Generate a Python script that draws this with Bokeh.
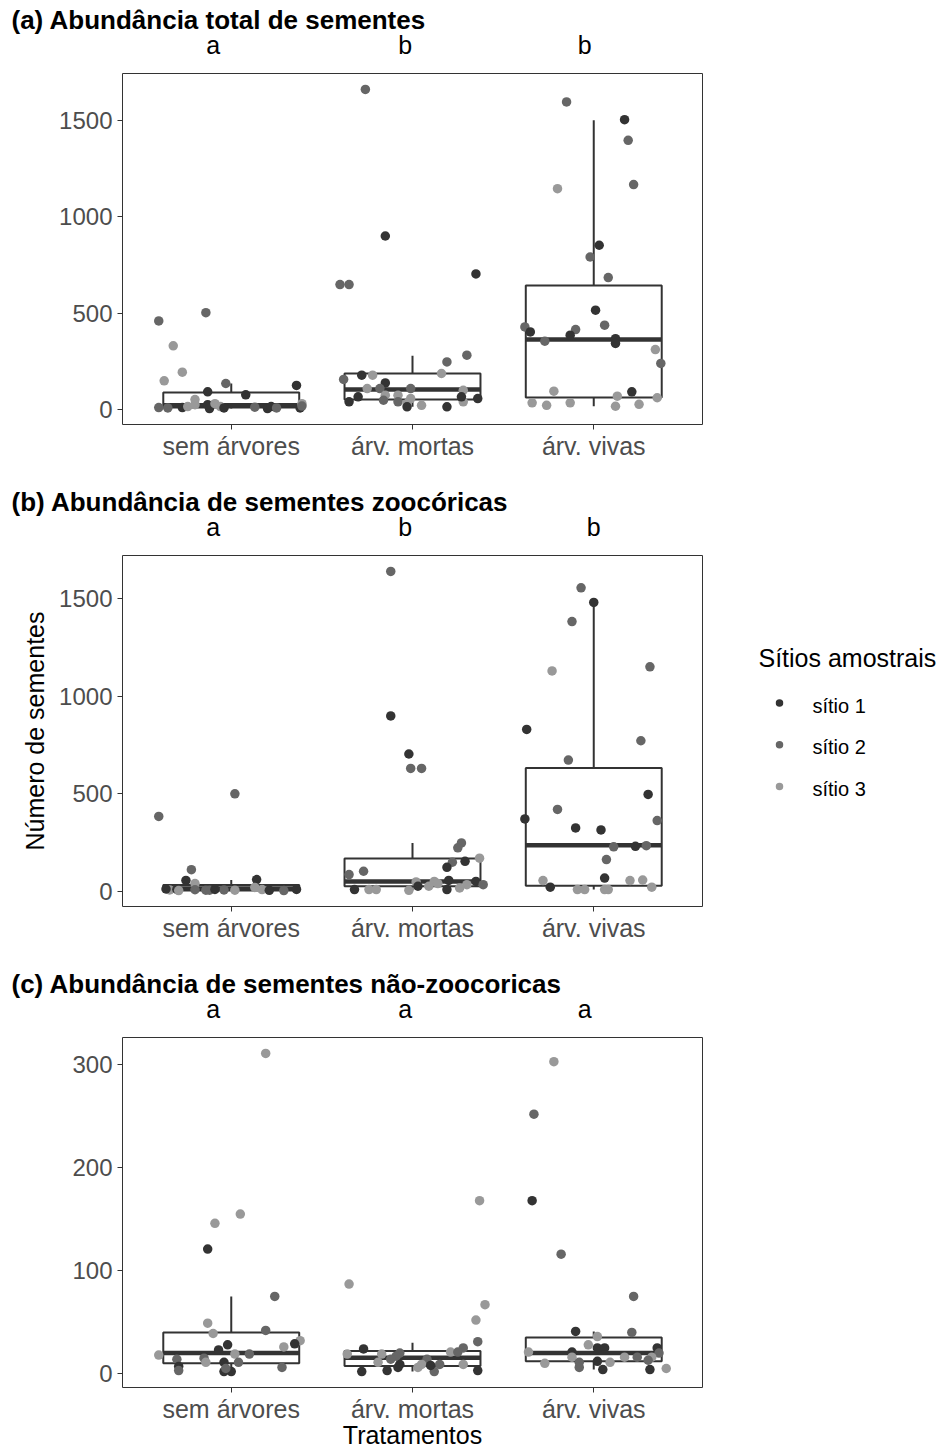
from bokeh.plotting import figure
from bokeh.models import Range1d, FixedTicker, ColumnDataSource, LinearAxis
from bokeh.layouts import column, row
from bokeh.embed import file_html
from bokeh.resources import INLINE
from bokeh.core.properties import value

FONT = "Liberation Sans"
TXT = "#4D4D4D"
INK = "#333333"

treatments = ["sem árvores", "árv. mortas", "árv. vivas"]
site_labels = ["sítio 1", "sítio 2", "sítio 3"]
site_colors = ["#333333", "#666666", "#999999"]
legend_title = "Sítios amostrais"
x_title = "Tratamentos"
y_title = "Número de sementes"

titles = ["(a) Abundância total de sementes",
          "(b) Abundância de sementes zoocóricas",
          "(c) Abundância de sementes não-zoocoricas"]

# ---------------- panel (a) ----------------
a_letters = ["a", "b", "b"]
a_letter_x = [0.9, 1.96, 2.95]
a_yticks = [0, 500, 1000, 1500]
a_values = [
    [460, 503, 331, 194, 149, 135, 125, 92, 76, 10, 8, 10, 15, 52, 25, 25, 5, 30, 15, 8, 12, 5, 15, 8, 8, 30, 18],
    [1662, 901, 649, 649, 704, 282, 247, 187, 178, 178, 156, 138, 109, 109, 109, 100, 66, 74, 74, 48, 40, 57, 31, 14, 40, 22, 14, 40, 66, 57],
    [1597, 1505, 1398, 1147, 1168, 853, 792, 685, 516, 438, 429, 403, 415, 386, 355, 368, 343, 311, 239, 95, 92, 69, 61, 35, 22, 35, 17, 27],
]
a_jitter = [
    [-0.40, -0.14, -0.32, -0.27, -0.37, -0.03, 0.36, -0.13, 0.08, -0.40, -0.35, -0.27, -0.24, -0.20, -0.20, -0.13, -0.12, -0.09, -0.06, -0.04, 0.13, 0.20, 0.22, 0.25, 0.38, 0.39, 0.39],
    [-0.26, -0.15, -0.40, -0.35, 0.35, 0.30, 0.19, 0.16, -0.28, -0.22, -0.38, -0.15, -0.25, -0.18, -0.01, 0.28, -0.30, -0.15, -0.08, -0.16, -0.08, -0.01, -0.03, -0.03, -0.35, 0.05, 0.19, 0.28, 0.27, 0.36],
    [-0.15, 0.17, 0.19, -0.20, 0.22, 0.03, -0.02, 0.08, 0.01, 0.06, -0.38, -0.35, -0.10, -0.13, -0.27, 0.12, 0.12, 0.34, 0.37, -0.22, 0.21, 0.13, 0.35, -0.34, -0.26, -0.13, 0.12, 0.25],
]
a_sites = [
    [2, 2, 3, 3, 3, 2, 1, 1, 1, 2, 2, 1, 3, 3, 3, 1, 1, 3, 3, 1, 2, 1, 1, 2, 1, 3, 2],
    [2, 1, 2, 2, 1, 2, 2, 3, 1, 3, 2, 1, 3, 2, 2, 3, 1, 3, 3, 2, 2, 3, 3, 1, 1, 3, 1, 3, 1, 1],
    [2, 1, 2, 3, 2, 1, 2, 2, 1, 2, 2, 1, 2, 1, 2, 1, 1, 3, 2, 3, 1, 3, 3, 3, 3, 3, 3, 3],
]
a_box_low = [5, 14, 17]
a_box_q1 = [10, 52, 62]
a_box_med = [22, 104, 363]
a_box_q3 = [88, 187, 644]
a_box_high = [135, 279, 1502]

# ---------------- panel (b) ----------------
b_letters = ["a", "b", "b"]
b_letter_x = [0.9, 1.96, 3.0]
b_yticks = [0, 500, 1000, 1500]
b_values = [
    [384, 500, 111, 56, 60, 40, 7, 10, 8, 6, 6, 7, 6, 20, 9, 5, 4, 10, 12, 4, 10],
    [1640, 899, 704, 630, 630, 248, 223, 170, 154, 149, 123, 103, 86, 48, 51, 56, 51, 34, 34, 26, 17, 26, 9, 9, 9, 5, 9, 40],
    [1556, 1481, 1383, 1130, 1151, 830, 772, 673, 497, 420, 371, 363, 325, 315, 228, 231, 234, 163, 68, 55, 55, 58, 21, 21, 9, 9, 9, 9],
]
b_jitter = [
    [-0.40, 0.02, -0.22, -0.25, 0.14, -0.20, -0.34, -0.30, -0.20, -0.14, -0.12, -0.04, 0.02, 0.13, 0.17, 0.21, 0.29, 0.36, -0.36, -0.29, -0.09],
    [-0.12, -0.12, -0.02, -0.01, 0.05, 0.27, 0.25, 0.37, 0.29, 0.22, 0.19, -0.27, -0.35, 0.02, 0.12, 0.20, 0.35, 0.39, 0.30, 0.09, 0.26, 0.03, -0.32, -0.24, -0.20, -0.02, 0.19, 0.14],
    [-0.07, 0.00, -0.12, -0.23, 0.31, -0.37, 0.26, -0.14, 0.30, -0.20, -0.38, 0.35, -0.10, 0.04, 0.11, 0.23, 0.29, 0.07, 0.06, -0.28, 0.20, 0.27, -0.24, 0.32, -0.09, -0.05, 0.06, 0.08],
]
b_sites = [
    [2, 2, 2, 1, 1, 3, 3, 1, 2, 2, 2, 2, 3, 3, 3, 1, 2, 1, 1, 3, 1],
    [2, 1, 1, 2, 2, 2, 2, 3, 1, 2, 1, 2, 2, 3, 3, 1, 1, 2, 3, 3, 3, 1, 1, 3, 3, 3, 1, 3],
    [2, 1, 2, 3, 2, 1, 2, 2, 1, 2, 1, 2, 1, 1, 2, 1, 2, 2, 1, 3, 3, 3, 1, 3, 3, 3, 3, 3],
]
b_box_low = [4, 5, 9]
b_box_q1 = [4, 26, 29]
b_box_med = [14, 50, 236]
b_box_q3 = [32, 168, 632]
b_box_high = [58, 248, 1481]

# ---------------- panel (c) ----------------
c_letters = ["a", "a", "a"]
c_letter_x = [0.9, 1.96, 2.95]
c_yticks = [0, 100, 200, 300]
c_values = [
    [311, 155, 146, 121, 75, 49, 39, 42, 32, 29, 26, 28, 23, 19, 19, 18, 14, 15, 11, 11, 11, 7, 3, 6, 2, 2, 5],
    [168, 87, 67, 52, 31, 25, 24, 21, 21, 19, 19, 20, 17, 14, 14, 11, 9, 6, 6, 9, 9, 2, 9, 2, 3, 3, 8],
    [303, 252, 168, 116, 75, 41, 40, 36, 28, 25, 25, 25, 20, 21, 21, 16, 16, 16, 16, 13, 11, 6, 10, 12, 11, 4, 4, 5],
]
c_jitter = [
    [0.19, 0.05, -0.09, -0.13, 0.24, -0.13, -0.10, 0.19, 0.38, 0.35, 0.29, -0.02, -0.07, 0.10, 0.02, -0.40, -0.30, -0.15, -0.14, 0.04, -0.04, -0.29, -0.29, 0.28, -0.04, 0.00, -0.03],
    [0.37, -0.35, 0.40, 0.35, 0.36, 0.28, -0.27, 0.21, 0.25, -0.36, -0.17, -0.07, -0.09, -0.12, 0.08, -0.19, -0.07, -0.08, 0.03, 0.05, 0.15, 0.12, 0.28, -0.28, -0.14, 0.36, 0.10],
    [-0.22, -0.33, -0.34, -0.18, 0.22, -0.10, 0.21, 0.02, -0.03, 0.02, 0.06, 0.35, 0.36, -0.36, -0.12, -0.12, 0.17, 0.24, 0.32, 0.30, -0.08, -0.08, -0.27, 0.02, 0.09, 0.05, 0.31, 0.40],
]
c_sites = [
    [3, 3, 3, 1, 2, 3, 3, 2, 3, 1, 3, 1, 1, 2, 3, 3, 2, 2, 3, 2, 1, 1, 2, 2, 1, 1, 2],
    [3, 3, 3, 3, 2, 2, 1, 3, 2, 3, 3, 2, 2, 2, 2, 3, 1, 1, 3, 3, 2, 2, 3, 1, 1, 1, 1],
    [3, 2, 1, 2, 2, 1, 2, 3, 3, 1, 1, 1, 2, 3, 1, 3, 3, 2, 3, 2, 2, 2, 3, 1, 3, 1, 1, 3],
]
c_box_low = [2, 2, 4]
c_box_q1 = [10, 7.5, 12]
c_box_med = [20, 15.5, 20]
c_box_q3 = [40, 22, 35]
c_box_high = [75, 30, 41]

# ---------------- layout constants ----------------
W = 949
FRAME_LEFT = 122
FRAME_W = 580
FRAME_H = 351
TOP = 73
MAIN_W = FRAME_LEFT + FRAME_W + 1
LEG_W = W - MAIN_W
X_LO, X_HI = 0.4, 3.6
BOX_HALF = 0.375


def make_main(title, letters, letter_x, values, jitter, sites, low, q1, med, q3, high,
              yticks, height, width=W, ylabel=False, xlabel=False):
    allv = [v for g in values for v in g] + low + high
    vmin, vmax = min(allv), max(allv)
    pad = 0.05 * (vmax - vmin)
    p = figure(width=width, height=height, output_backend="svg", toolbar_location=None,
               x_range=Range1d(X_LO, X_HI), y_range=Range1d(vmin - pad, vmax + pad),
               min_border_left=FRAME_LEFT, min_border_right=width - FRAME_LEFT - FRAME_W,
               min_border_top=TOP, min_border_bottom=height - TOP - FRAME_H)
    p.xgrid.visible = False
    p.ygrid.visible = False
    p.outline_line_color = INK
    p.outline_line_width = 1
    p.outline_line_alpha = 1

    bottom_ax = p.below[0]
    left_ax = p.left[0]

    # panel title
    p.title.text = title
    p.title.align = "left"
    p.title.offset = -(FRAME_LEFT - 11)
    p.title.standoff = -15
    p.title.text_font = FONT
    p.title.text_font_size = "26px"
    p.title.text_font_style = "bold"
    p.title.text_color = "black"

    # significance letters as a top axis
    top_ax = LinearAxis(ticker=FixedTicker(ticks=letter_x),
                        major_label_overrides={x: t for x, t in zip(letter_x, letters)})
    top_ax.axis_line_color = None
    top_ax.major_tick_line_color = None
    top_ax.minor_tick_line_color = None
    top_ax.major_tick_in = 0
    top_ax.major_tick_out = 0
    top_ax.major_label_standoff = 15
    top_ax.major_label_text_font = FONT
    top_ax.major_label_text_font_size = "25px"
    top_ax.major_label_text_color = "black"
    p.add_layout(top_ax, "above")

    for ax in (bottom_ax, left_ax):
        ax.axis_line_color = None
        ax.major_tick_line_color = INK
        ax.major_tick_line_width = 1
        ax.major_tick_in = 0
        ax.major_tick_out = 5
        ax.minor_tick_line_color = None
        ax.major_label_text_font = FONT
        ax.major_label_text_color = TXT
    bottom_ax.major_label_text_font_size = "25px"
    bottom_ax.major_label_standoff = 2
    bottom_ax.ticker = FixedTicker(ticks=[1, 2, 3])
    bottom_ax.major_label_overrides = {i + 1: t for i, t in enumerate(treatments)}
    left_ax.major_label_text_font_size = "24px"
    left_ax.major_label_standoff = 5
    left_ax.ticker = FixedTicker(ticks=yticks)

    pos = [1, 2, 3]
    p.segment(x0=pos, x1=pos, y0=q3, y1=high, line_color=INK, line_width=2)
    p.segment(x0=pos, x1=pos, y0=low, y1=q1, line_color=INK, line_width=2)
    p.quad(left=[x - BOX_HALF for x in pos], right=[x + BOX_HALF for x in pos],
           bottom=q1, top=q3, fill_color="white", line_color=INK, line_width=2)
    p.segment(x0=[x - BOX_HALF for x in pos], x1=[x + BOX_HALF for x in pos],
              y0=med, y1=med, line_color=INK, line_width=4.5)

    xs, ys, cs = [], [], []
    for g in range(3):
        for v, j, s in zip(values[g], jitter[g], sites[g]):
            xs.append(pos[g] + j)
            ys.append(v)
            cs.append(site_colors[s - 1])
    src = ColumnDataSource(dict(x=xs, y=ys, color=cs))
    p.scatter("x", "y", source=src, size=9.5, fill_color="color", line_color=None)

    if ylabel:
        left_ax.axis_label = y_title
        left_ax.axis_label_text_font = FONT
        left_ax.axis_label_text_font_size = "25px"
        left_ax.axis_label_text_font_style = "normal"
        left_ax.axis_label_text_color = "black"
        left_ax.axis_label_standoff = 7
    if xlabel:
        bottom_ax.axis_label = x_title
        bottom_ax.axis_label_text_font = FONT
        bottom_ax.axis_label_text_font_size = "25px"
        bottom_ax.axis_label_text_font_style = "normal"
        bottom_ax.axis_label_text_color = "black"
        bottom_ax.axis_label_standoff = -5
    return p


def make_legend(height):
    bottom = height - TOP - FRAME_H
    lg = figure(width=LEG_W, height=height, output_backend="svg", toolbar_location=None,
                x_range=Range1d(0, LEG_W), y_range=Range1d(0, FRAME_H),
                min_border_left=0, min_border_right=0,
                min_border_top=TOP, min_border_bottom=bottom,
                x_axis_location=None, y_axis_location=None)
    lg.outline_line_color = None
    lg.xgrid.visible = False
    lg.ygrid.visible = False
    frame_bottom = 482 + TOP + FRAME_H      # page y of panel (b) frame bottom
    step = 41.75
    n = len(site_labels)
    dot_y = [frame_bottom - 702.5 - i * step for i in range(n)]
    lab_y = [frame_bottom - 705.0 - i * step for i in range(n)]
    lg.text(x=[55], y=[frame_bottom - 657.5], text=[legend_title], text_font=value(FONT),
            text_font_size="25px", text_color="black", text_align="left",
            text_baseline="middle")
    lg.scatter(x=[76] * n, y=dot_y, size=7.5, fill_color=site_colors, line_color=None)
    lg.text(x=[109] * n, y=lab_y, text=site_labels, text_font=value(FONT),
            text_font_size="20px", text_color="black", text_align="left",
            text_baseline="middle")
    return lg


H_AB = 482
H_C = 1451 - 2 * 482

pa = make_main(titles[0], a_letters, a_letter_x, a_values, a_jitter, a_sites,
               a_box_low, a_box_q1, a_box_med, a_box_q3, a_box_high, a_yticks, H_AB)
pb = make_main(titles[1], b_letters, b_letter_x, b_values, b_jitter, b_sites,
               b_box_low, b_box_q1, b_box_med, b_box_q3, b_box_high, b_yticks, H_AB,
               width=MAIN_W, ylabel=True)
lb = make_legend(H_AB)
pc = make_main(titles[2], c_letters, c_letter_x, c_values, c_jitter, c_sites,
               c_box_low, c_box_q1, c_box_med, c_box_q3, c_box_high, c_yticks, H_C,
               xlabel=True)

layout = column(pa, row(pb, lb), pc)
open("out.html", "w").write(file_html(layout, INLINE))
